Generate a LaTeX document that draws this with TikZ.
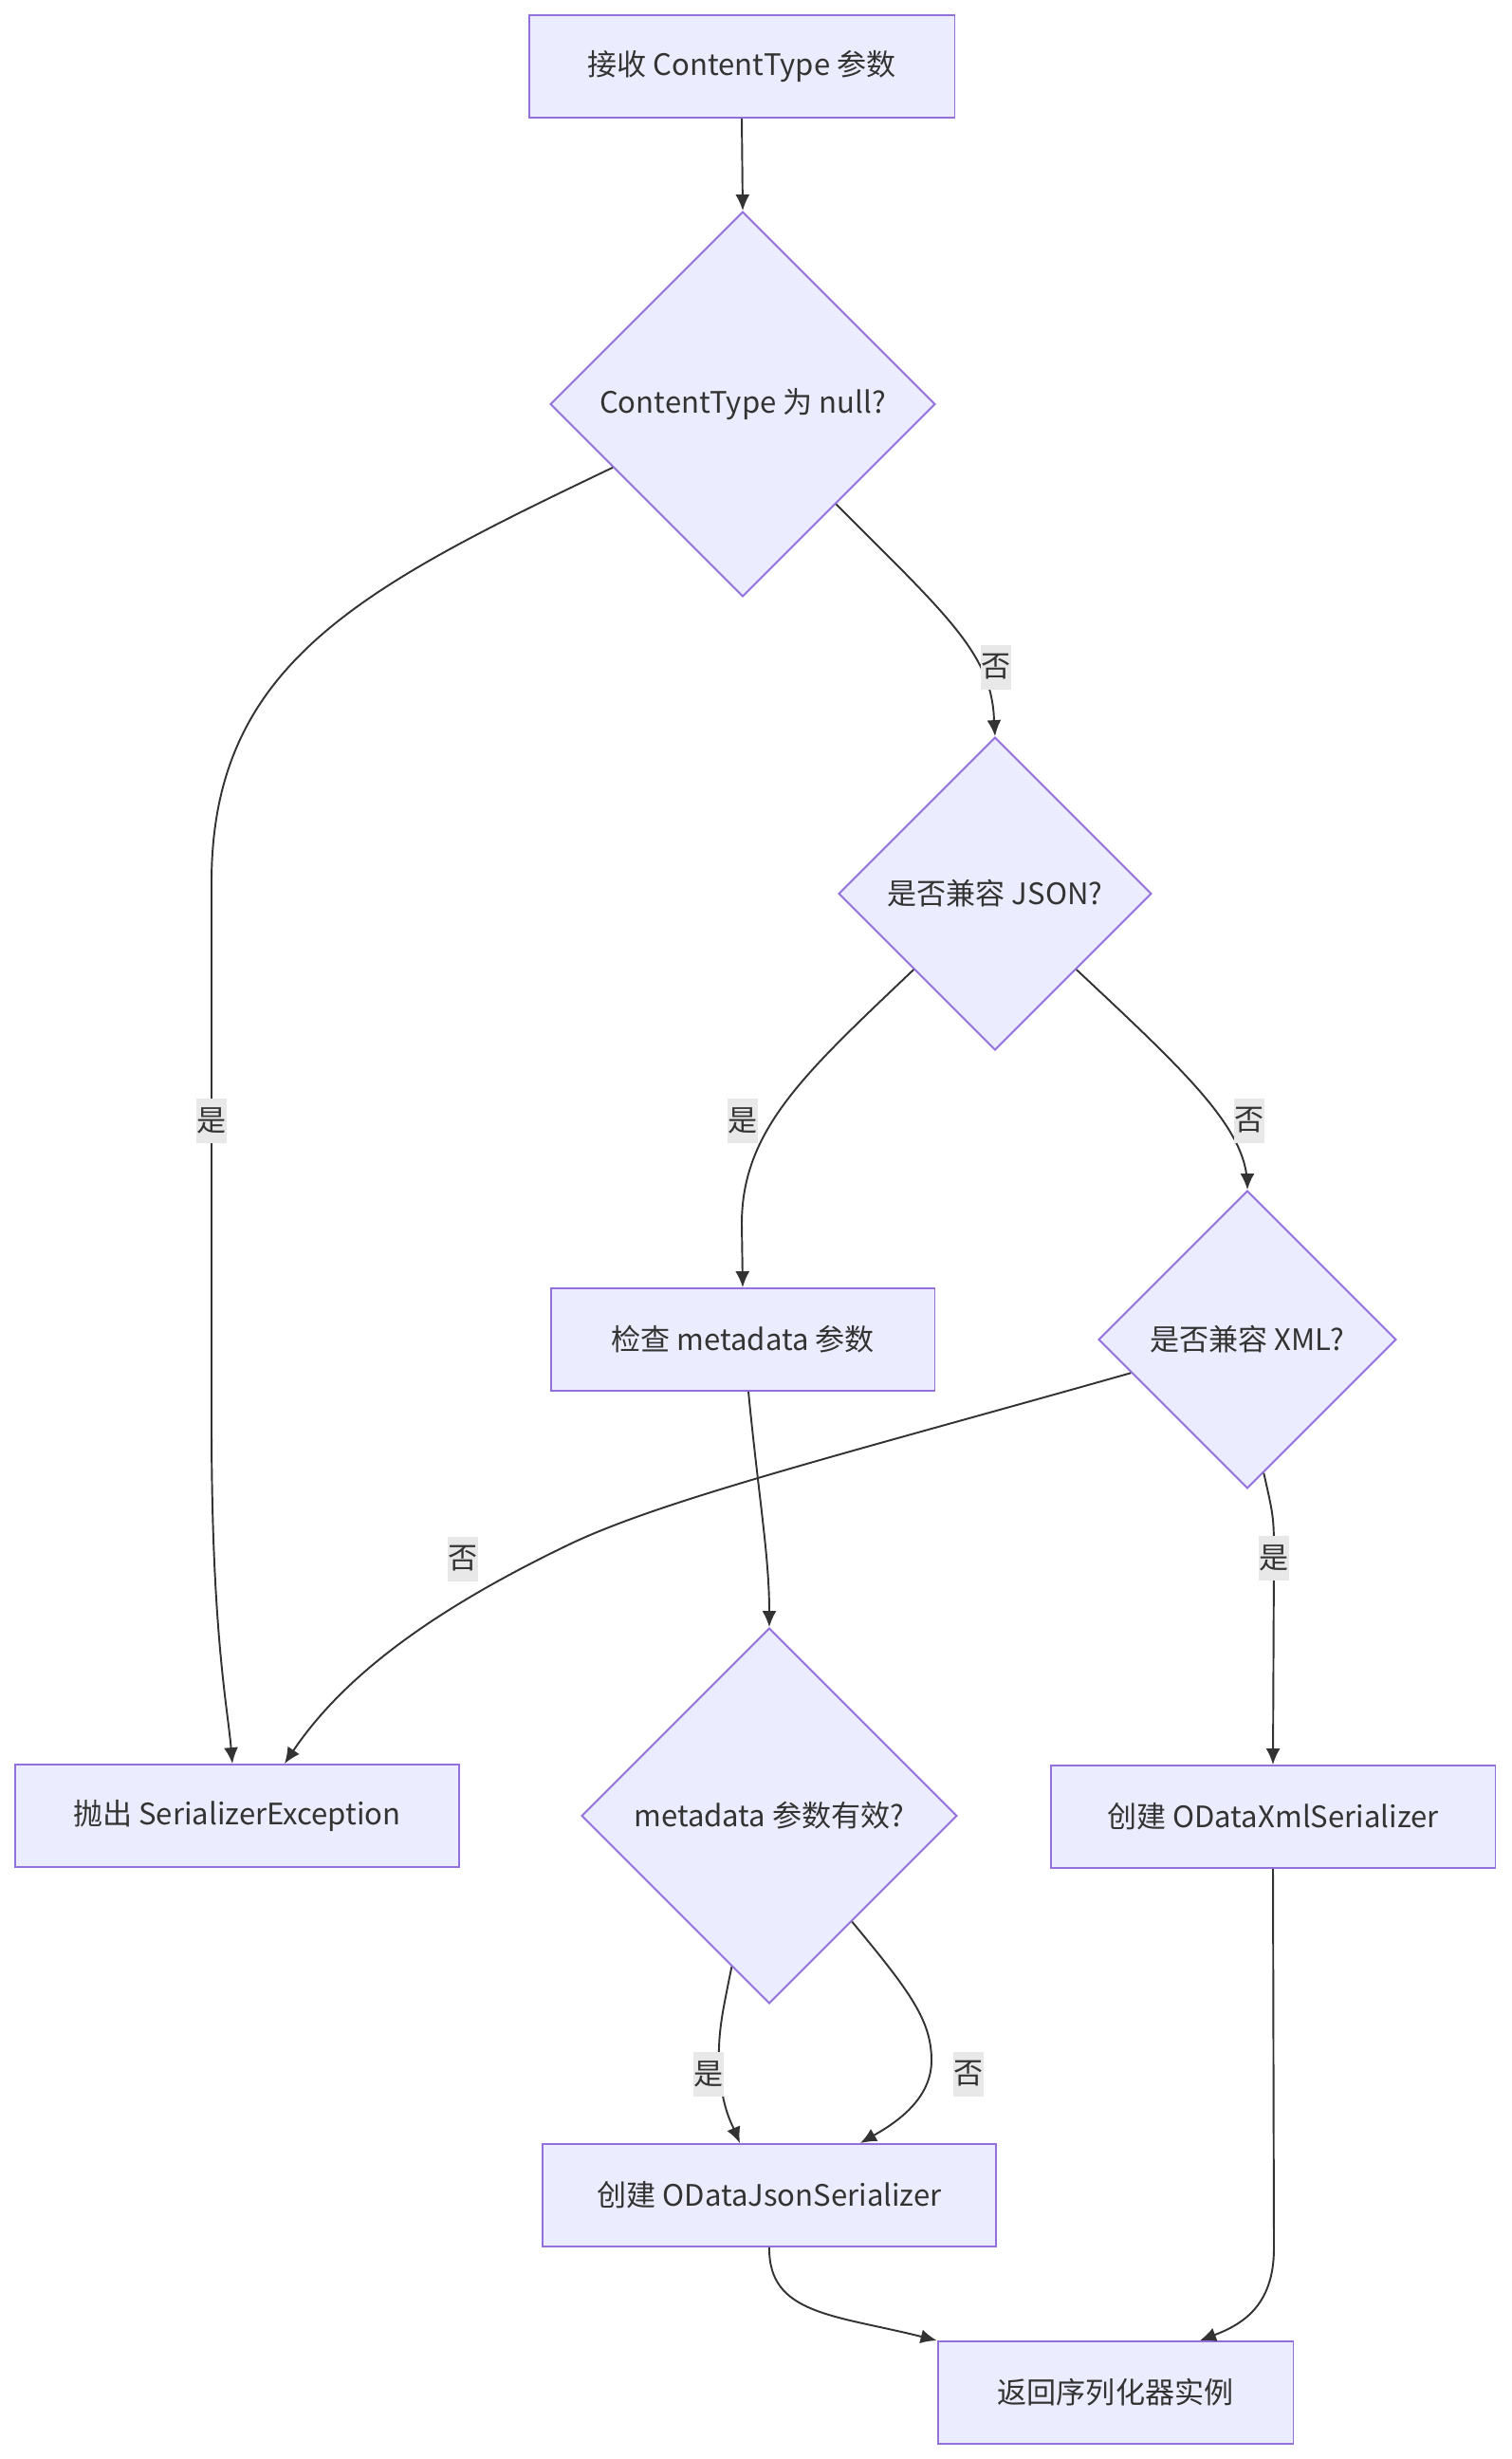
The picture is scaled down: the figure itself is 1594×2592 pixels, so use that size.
\documentclass[tikz,border=0pt]{standalone}
\usepackage{fontspec}
\setmainfont{Noto Sans CJK SC}
\usetikzlibrary{shapes.geometric,arrows.meta}
\definecolor{boxfill}{HTML}{ECECFF}
\definecolor{boxline}{HTML}{9370DB}
\definecolor{ink}{HTML}{333333}
\definecolor{lblbg}{HTML}{E8E8E8}

\begin{document}
\begin{tikzpicture}[x=0.02cm,y=-0.02cm,
    every node/.style={font=\fontsize{17.7}{21}\selectfont,text=ink},
    proc/.style={draw=boxline,fill=boxfill,line width=1.1pt,minimum height=2.16cm,inner sep=0pt},
    decide/.style={diamond,aspect=1,draw=boxline,fill=boxfill,line width=1.1pt,inner sep=0pt},
    lbl/.style={fill=lblbg,inner sep=0pt,minimum width=0.64cm,minimum height=0.94cm},
    flow/.style={draw=ink,line width=1.1pt,->,>={Latex[length=0.34cm,width=0.3cm]}}]
                \useasboundingbox (0,0) rectangle (1594,2592);
                \node[proc,minimum width=8.98cm] (recv) at (782,70) {接收 ContentType 参数};
                \node[decide,minimum size=8.12cm] (isnull) at (783,426) {ContentType 为 null?};
                \node[decide,minimum size=6.6cm] (json) at (1049,942) {是否兼容 JSON?};
                \node[proc,minimum width=8.1cm] (chk) at (783,1412) {检查 metadata 参数};
                \node[decide,minimum size=6.28cm] (xml) at (1315,1412) {是否兼容 XML?};
                \node[proc,minimum width=9.38cm] (thr) at (250,1914) {抛出 SerializerException};
                \node[decide,minimum size=7.92cm] (valid) at (811,1914) {metadata 参数有效?};
                \node[proc,minimum width=9.38cm] (mkxml) at (1342,1915) {创建 ODataXmlSerializer};
                \node[proc,minimum width=9.56cm] (mkjson) at (811,2314) {创建 ODataJsonSerializer};
                \node[proc,minimum width=7.5cm] (ret) at (1176,2522) {返回序列化器实例};
                % top part
                \draw[flow] (recv.south) -- (isnull.north);
                \draw[flow] (isnull.206) .. controls (380,620) and (223,700) .. (223,930)
                    -- (223,1181) node[lbl]{是} -- (223,1500)
                    .. controls (223,1720) and (240,1800) .. ([xshift=-0.1cm]thr.north);
                \draw[flow] (isnull.-47) .. controls (1000,650) and (1046,690) .. (1048,760)
                    node[lbl] at (1050,703) {否} -- (json.north);
                % json / xml
                \draw[flow] (json.223) .. controls (850,1130) and (782,1190) .. (782,1290)
                    node[lbl] at (783,1181) {是} -- (chk.north);
                \draw[flow] (json.-43) .. controls (1250,1130) and (1315,1190) .. (1315,1250)
                    node[lbl] at (1317,1181) {否} -- (xml.north);
                \draw[flow] (xml.196) .. controls (900,1530) and (700,1580) .. (600,1628)
                    .. controls (450,1700) and (360,1770) .. ([xshift=1cm]thr.north)
                    node[lbl] at (488,1643) {否};
                \draw[flow] (xml.-83) .. controls (1343,1600) .. (1343,1642)
                    node[lbl]{是} -- (mkxml.north);
                % metadata
                \draw[flow] ([xshift=0.12cm]chk.south) .. controls (800,1580) and (811,1640) .. (valid.north);
                \draw[flow] (valid.256) .. controls (762,2120) and (757,2140) .. (758,2175)
                    .. controls (760,2220) and (772,2240) .. ([xshift=-0.62cm]mkjson.north)
                    node[lbl] at (747,2186) {是};
                \draw[flow] (valid.-52) .. controls (960,2100) and (982,2130) .. (982,2172)
                    .. controls (982,2215) and (940,2240) .. ([xshift=1.92cm]mkjson.north)
                    node[lbl] at (1021,2186) {否};
                % return
                \draw[flow] (mkjson.south) .. controls (810,2440) and (880,2440) .. (ret.north west);
                \draw[flow] (mkxml.south) -- (1343,2370)
                    .. controls (1343,2430) and (1310,2450) .. ([xshift=1.78cm]ret.north);
            \end{tikzpicture}
\end{document}
